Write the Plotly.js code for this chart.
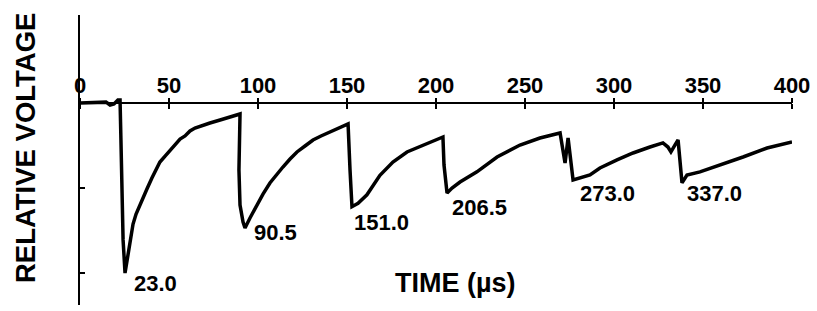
<!DOCTYPE html>
<html>
<head>
<meta charset="utf-8">
<script src="https://cdn.plot.ly/plotly-3.0.1.min.js"></script>
<style>html,body{margin:0;padding:0;background:#fff;}#chart{width:817px;height:311px;}</style>
</head>
<body>
<div id="chart"></div>
<script>
// Time (µs) and relative voltage
const timeUs = [0, 11.2, 14.6, 16.9, 19.1, 21.3, 22.5, 23.0, 23.6, 24.2, 25.3,
  26.4, 27.5, 28.7, 29.8, 31.5, 33.1, 34.8, 37.6, 40.4, 42.7, 44.9, 47.8, 50.6, 53.4, 56.2,
  59.0, 61.8, 64.6, 67.4, 73.0, 78.7, 84.3, 89.9,
  89.3, 89.9, 91.6, 92.7,
  95.5, 99.4, 102.8, 106.7, 110.1, 114.0, 118.0, 121.9, 126.4, 130.9, 135.4, 140.4, 145.5, 150.6,
  151.7, 152.8,
  156.2, 161.2, 168.5, 175.8, 183.7, 192.7, 203.9,
  204.5, 206.2,
  209.0, 213.5, 223.0, 230.3, 234.3, 247.2, 258.4, 269.7,
  272.5, 274.2, 277.0,
  286.5, 292.1, 301.7, 310.7, 320.2, 327.5, 330.3, 332.0, 334.3, 336.0, 338.2,
  341.0, 348.3, 359.6, 372.5, 386.0, 400.0];
const voltage = [0, 0, 0.01, -0.024, -0.012, 0.035, 0.035, -0.435, -1.02, -1.61, -2.0,
  -1.871, -1.729, -1.576, -1.424, -1.306, -1.224, -1.153, -1.012, -0.882, -0.776, -0.694, -0.624, -0.553, -0.482, -0.424,
  -0.388, -0.329, -0.294, -0.271, -0.235, -0.2, -0.165, -0.129,
  -0.788, -1.2, -1.4, -1.47,
  -1.353, -1.2, -1.071, -0.941, -0.847, -0.753, -0.659, -0.576, -0.506, -0.435, -0.388, -0.341, -0.294, -0.247,
  -0.79, -1.22,
  -1.18, -1.08, -0.85, -0.694, -0.576, -0.494, -0.4,
  -0.73, -1.06,
  -1.0, -0.93, -0.81, -0.70, -0.635, -0.494, -0.412, -0.353,
  -0.706, -0.412, -0.906,
  -0.847, -0.765, -0.67, -0.588, -0.518, -0.47, -0.518, -0.576, -0.494, -0.435, -0.94,
  -0.847, -0.81, -0.73, -0.635, -0.53, -0.459];
const xTicks = [0, 50, 100, 150, 200, 250, 300, 350, 400];
const yTicks = [-1, -2];
const peakLabels = ['23.0', '90.5', '151.0', '206.5', '273.0', '337.0'];
const peakLabelX = [29.2, 96.6, 152.8, 207.9, 279.8, 339.9];
const peakLabelY = [-2.118, -1.518, -1.41, -1.235, -1.07, -1.07];

const font = 'Liberation Sans, Arial, Helvetica, sans-serif';
const axisPos = (305 - 103) / 290;

const annotations = peakLabels.map((t, i) => ({
  x: peakLabelX[i], y: peakLabelY[i], xref: 'x', yref: 'y',
  text: '<b>' + t + '</b>', showarrow: false, xanchor: 'left', yanchor: 'middle',
  font: {family: font, size: 22, color: '#000'}
}));
// pixel-placed titles converted to paper coordinates
const px = (x) => (x - 80) / 712;
const py = (y) => (305 - y) / 290;
annotations.push({
  x: px(25), y: py(148), xref: 'paper', yref: 'paper', text: '<b>RELATIVE VOLTAGE</b>', textangle: -90,
  showarrow: false, xanchor: 'center', yanchor: 'middle',
  font: {family: font, size: 27.5, color: '#000'}
});
annotations.push({
  x: px(456), y: py(283), xref: 'paper', yref: 'paper', text: '<b>TIME (µs)</b>', showarrow: false,
  xanchor: 'center', yanchor: 'middle',
  font: {family: font, size: 27, color: '#000'}
});

const data = [{
  x: timeUs, y: voltage, type: 'scatter', mode: 'lines',
  line: {color: '#000', width: 3.5}, xaxis: 'x', yaxis: 'y', hoverinfo: 'skip'
}];
data.push({x: [0], y: [0], xaxis: 'x2', yaxis: 'y', mode: 'markers', marker: {opacity: 0}, hoverinfo: 'skip'});
data.push({x: [0], y: [0], xaxis: 'x3', yaxis: 'y', mode: 'markers', marker: {opacity: 0}, hoverinfo: 'skip'});

const tickAxis = (side) => ({
  range: [0, 400], overlaying: 'x', anchor: 'free', position: axisPos, side: side,
  showline: false, ticks: 'outside', ticklen: 5, tickwidth: 2, tickcolor: '#000',
  tickmode: 'array', tickvals: xTicks, showticklabels: false,
  showgrid: false, zeroline: false, fixedrange: true
});

const layout = {
  width: 817, height: 311,
  margin: {l: 80, r: 25, t: 15, b: 6, pad: 0},
  paper_bgcolor: '#fff', plot_bgcolor: '#fff',
  showlegend: false,
  xaxis: {
    range: [0, 400], anchor: 'free', position: axisPos, side: 'top',
    showline: true, linecolor: '#000', linewidth: 2,
    ticks: '', 
    tickmode: 'array', tickvals: xTicks, ticktext: xTicks.map(v => '<b>' + v + '</b>'),
    tickfont: {family: font, size: 22, color: '#000'},
    showgrid: false, zeroline: false, fixedrange: true
  },
  xaxis2: tickAxis('top'),
  xaxis3: tickAxis('bottom'),
  yaxis: {
    range: [-2.376, 1.035], showline: true, linecolor: '#000', linewidth: 2,
    ticks: 'inside', ticklen: 5, tickwidth: 2, tickcolor: '#000',
    tickmode: 'array', tickvals: yTicks, showticklabels: false,
    showgrid: false, zeroline: false, fixedrange: true
  },
  annotations: annotations
};

Plotly.newPlot('chart', data, layout, {staticPlot: true, displayModeBar: false});
</script>
</body>
</html>
